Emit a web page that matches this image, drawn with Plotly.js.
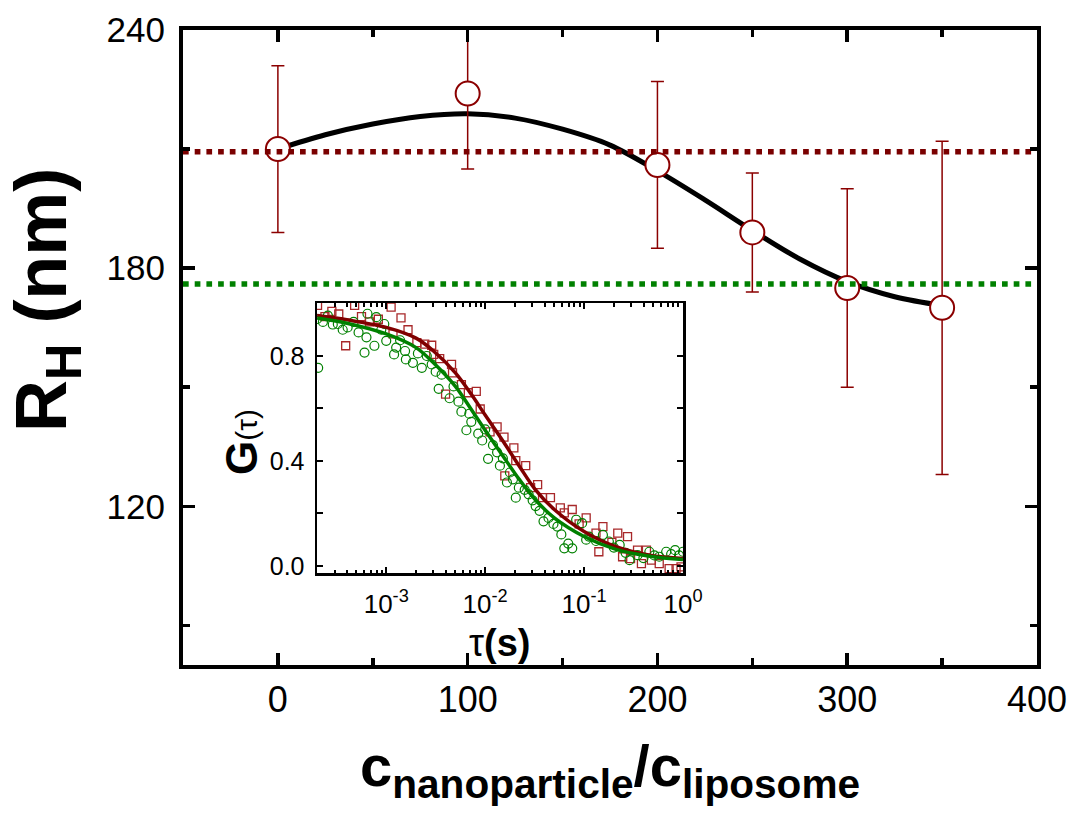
<!DOCTYPE html>
<html>
<head>
<meta charset="utf-8">
<script src="https://cdn.plot.ly/plotly-3.0.1.min.js"></script>
<style>
  html, body { margin: 0; padding: 0; background: #ffffff; }
  #chart { width: 1076px; height: 815px; }
</style>
</head>
<body>
<div id="chart"></div>
<script>
// ---------------- main panel data ----------------
const ratio      = [0, 100, 200, 250, 300, 350];            // c_nanoparticle / c_liposome
const radius     = [210, 224, 206, 189, 175, 170];          // R_H (nm)
const radiusErr  = [21, 19, 21, 15, 25, 42];                // error bars (nm)

const fitRatio   = [0, 25, 50, 75, 100, 125, 150, 175, 200, 225, 250, 275, 300, 325, 350];
const fitRadius  = [210, 213.6, 216.3, 218.2, 218.9, 217.8, 215.0, 211.0, 204.5, 197.2, 189.5, 182.3, 176.6, 172.8, 170.6];

const refRedLevel   = 209.3;   // dark red dotted reference
const refGreenLevel = 176;     // green dotted reference
const xRange = [-50, 400];
const yRange = [80, 240];

// ---------------- inset data ----------------
const tauRed = [2.02e-4, 2.4e-4, 2.82e-4, 3.31e-4, 3.89e-4, 4.79e-4, 5.62e-4, 6.76e-4, 8.32e-4,
                1.12e-3, 1.17e-3, 1.41e-3, 1.66e-3, 2.04e-3, 2.45e-3, 2.88e-3, 3.02e-3, 3.47e-3, 3.98e-3,
                4.57e-3, 4.68e-3, 5.75e-3, 6.76e-3, 8.13e-3, 8.91e-3,
                1.12e-2, 1.32e-2, 1.55e-2, 1.58e-2, 1.95e-2, 2.04e-2, 2.57e-2, 2.88e-2, 3.39e-2, 3.8e-2,
                4.57e-2, 5.75e-2, 6.31e-2, 7.59e-2, 8.91e-2,
                0.105, 0.132, 0.141, 0.155, 0.191, 0.219, 0.245, 0.275, 0.295, 0.347, 0.38, 0.427, 0.479,
                0.575, 0.724, 0.851, 0.955];
const gRed   = [0.993, 0.95, 0.97, 0.96, 0.839, 0.993, 0.95, 0.93, 0.94,
                0.986, 0.884, 0.945, 0.90, 0.851, 0.845, 0.841, 0.806, 0.79, 0.655,
                0.768, 0.736, 0.691, 0.66, 0.665, 0.598,
                0.511, 0.53, 0.491, 0.343, 0.45, 0.401, 0.382, 0.298, 0.31, 0.26,
                0.26, 0.221, 0.202, 0.215, 0.16,
                0.183, 0.125, 0.054, 0.15, 0.09, 0.125, 0.035, 0.112, 0.028, 0.06, 0.009, 0.06, 0.022,
                0.009, -0.01, -0.01, -0.004];

const tauGreen = [2.0e-4, 2.05e-4, 2.29e-4, 2.57e-4, 2.88e-4, 3.24e-4, 3.63e-4, 4.07e-4, 4.68e-4, 5.25e-4,
                  6.03e-4, 6.31e-4, 6.46e-4, 7.59e-4, 7.94e-4, 8.91e-4, 9.55e-4,
                  1.0e-3, 1.2e-3, 1.26e-3, 1.38e-3, 1.55e-3, 1.58e-3, 1.86e-3, 2.09e-3, 2.29e-3, 2.57e-3,
                  2.88e-3, 3.16e-3, 3.39e-3, 3.63e-3, 4.37e-3, 4.79e-3, 5.37e-3, 5.75e-3, 6.46e-3, 6.92e-3,
                  7.24e-3, 8.51e-3, 9.33e-3,
                  1.0e-2, 1.07e-2, 1.2e-2, 1.32e-2, 1.41e-2, 1.51e-2, 1.66e-2, 1.78e-2, 1.91e-2, 2.04e-2,
                  2.19e-2, 2.51e-2, 2.75e-2, 3.02e-2, 3.24e-2, 3.55e-2, 3.89e-2, 4.37e-2, 4.9e-2, 5.37e-2,
                  5.89e-2, 6.31e-2, 6.92e-2, 7.59e-2, 8.32e-2, 9.55e-2,
                  0.105, 0.112, 0.132, 0.155, 0.178, 0.2, 0.229, 0.263, 0.288, 0.347, 0.398, 0.457,
                  0.513, 0.575, 0.676, 0.759, 0.832, 0.912, 1.0];
const gGreen   = [0.941, 0.755, 0.93, 0.954, 0.92, 0.922, 0.90, 0.909, 0.93, 0.89,
                  0.813, 0.871, 0.961, 0.839, 0.948, 0.90, 0.922,
                  0.858, 0.806, 0.832, 0.86, 0.819, 0.787, 0.774, 0.81, 0.755, 0.80,
                  0.768, 0.74, 0.675, 0.729, 0.639, 0.684, 0.626, 0.588, 0.517, 0.58,
                  0.549, 0.504, 0.478,
                  0.52, 0.408, 0.46, 0.433, 0.382, 0.41, 0.318, 0.356, 0.33, 0.26,
                  0.298, 0.29, 0.273, 0.25, 0.228, 0.21, 0.17, 0.183, 0.16, 0.15,
                  0.12, 0.067, 0.085, 0.067, 0.176, 0.163,
                  0.10, 0.112, 0.095, 0.118, 0.093, 0.07, 0.08, 0.05, 0.022, 0.041, 0.03, 0.054,
                  0.04, 0.035, 0.054, 0.045, 0.06, 0.04, 0.054];

const fitTau    = [0.0002, 0.0004, 0.001, 0.002, 0.003, 0.005, 0.0073, 0.01, 0.015, 0.022, 0.032, 0.05, 0.1, 0.21, 0.46, 1];
const fitGRed   = [0.954, 0.938, 0.909, 0.868, 0.819, 0.736, 0.652, 0.575, 0.478, 0.382, 0.292, 0.215, 0.131, 0.073, 0.041, 0.028];
const fitGGreen = [0.945, 0.925, 0.884, 0.832, 0.774, 0.684, 0.594, 0.517, 0.421, 0.331, 0.253, 0.183, 0.112, 0.063, 0.037, 0.024];

const insetTickVals = [0.001, 0.01, 0.1, 1];
const insetTickText = ['10<sup>-3</sup>', '10<sup>-2</sup>', '10<sup>-1</sup>', '10<sup>0</sup>'];
const insetYTickVals = [0, 0.4, 0.8];
const insetYTickText = ['0.0', '0.4', '0.8'];
const insetXRangeLog = [-3.7, 0];
const insetYRange = [-0.027, 1.002];

// minor tick positions for the log axis (2..9 x each decade)
const insetMinor = [];
[1e-4, 1e-3, 1e-2, 1e-1].forEach(d => { for (let m = 2; m <= 9; m++) insetMinor.push(d * m); });

const RED = '#8b0000';
const DOT_RED = '#7a0000';
const GREEN = '#008000';
const SQ_RED = '#a8282a';
const FONT = 'Liberation Sans, Arial, sans-serif';

const traces = [
  { x: fitRatio, y: fitRadius, type: 'scatter', mode: 'lines',
    line: { color: '#000', width: 5, shape: 'spline' }, xaxis: 'x', yaxis: 'y', hoverinfo: 'skip' },
  { x: ratio, y: radius, type: 'scatter', mode: 'markers',
    marker: { symbol: 'circle', size: 24, color: '#ffffff', line: { color: RED, width: 2 } },
    error_y: { type: 'data', array: radiusErr, visible: true, color: RED, thickness: 1.5, width: 6.5 },
    xaxis: 'x', yaxis: 'y' },
  { x: xRange, y: [refRedLevel, refRedLevel], type: 'scatter', mode: 'lines',
    line: { color: DOT_RED, width: 5.5, dash: '5.7px,6px' }, xaxis: 'x', yaxis: 'y' },
  { x: xRange, y: [refGreenLevel, refGreenLevel], type: 'scatter', mode: 'lines',
    line: { color: GREEN, width: 5.5, dash: '5.7px,6px' }, xaxis: 'x', yaxis: 'y' },
  // inset
  { x: tauRed, y: gRed, type: 'scatter', mode: 'markers', cliponaxis: true,
    marker: { symbol: 'square-open', size: 8, color: SQ_RED, line: { width: 1.3 } }, xaxis: 'x2', yaxis: 'y2' },
  { x: tauGreen, y: gGreen, type: 'scatter', mode: 'markers', cliponaxis: true,
    marker: { symbol: 'circle-open', size: 9, color: GREEN, line: { width: 1.2 } }, xaxis: 'x2', yaxis: 'y2' },
  { x: fitTau, y: fitGRed, type: 'scatter', mode: 'lines',
    line: { color: '#800000', width: 3.5, shape: 'spline' }, xaxis: 'x2', yaxis: 'y2' },
  { x: fitTau, y: fitGGreen, type: 'scatter', mode: 'lines',
    line: { color: GREEN, width: 3.5, shape: 'spline' }, xaxis: 'x2', yaxis: 'y2' }
];

const L = 183, R = 39, T = 30, B = 150;
const W = 1076, H = 815;
const pw = W - L - R, ph = H - T - B;
const px = v => (v - L) / pw;          // pixel -> paper x
const py = v => (H - B - v) / ph;      // pixel -> paper y

const layout = {
  width: W, height: H,
  margin: { l: L, r: R, t: T, b: B, pad: 0 },
  paper_bgcolor: '#ffffff', plot_bgcolor: '#ffffff',
  showlegend: false,
  font: { family: FONT, color: '#000' },
  xaxis: {
    range: xRange, dtick: 100, tick0: 0, showgrid: false, zeroline: false,
    showline: true, linewidth: 4, linecolor: '#000', mirror: 'ticks',
    ticks: 'inside', ticklen: 12, tickwidth: 3.5, tickcolor: '#000',
    minor: { dtick: 50, ticks: 'inside', ticklen: 7, tickwidth: 3.5, tickcolor: '#000', showgrid: false },
    tickfont: { size: 36, family: FONT }, ticklabelstandoff: 0,
    domain: [0, 1], anchor: 'y'
  },
  yaxis: {
    range: yRange, dtick: 60, tick0: 0, showgrid: false, zeroline: false,
    showline: true, linewidth: 4, linecolor: '#000', mirror: 'ticks',
    ticks: 'inside', ticklen: 12, tickwidth: 3.5, tickcolor: '#000',
    minor: { dtick: 30, ticks: 'inside', ticklen: 7, tickwidth: 3.5, tickcolor: '#000', showgrid: false },
    tickfont: { size: 35, family: FONT }, ticklabelstandoff: 7,
    domain: [0, 1], anchor: 'x'
  },
  xaxis2: {
    type: 'log', range: insetXRangeLog, domain: [px(317), px(683)], anchor: 'y2',
    tickmode: 'array', tickvals: insetTickVals, ticktext: insetTickText,
    showgrid: false, zeroline: false,
    showline: true, linewidth: 2.5, linecolor: '#000', mirror: 'ticks',
    ticks: 'inside', ticklen: 6, tickwidth: 2, tickcolor: '#000',
    minor: { tickmode: 'array', tickvals: insetMinor, ticks: 'inside', ticklen: 3.5, tickwidth: 2, tickcolor: '#000', showgrid: false },
    tickfont: { size: 26, family: FONT }, ticklabelstandoff: 6
  },
  yaxis2: {
    range: insetYRange, domain: [py(573), py(303)], anchor: 'x2',
    tickmode: 'array', tickvals: insetYTickVals, ticktext: insetYTickText,
    showgrid: false, zeroline: false,
    showline: true, linewidth: 2.5, linecolor: '#000', mirror: 'ticks',
    ticks: 'inside', ticklen: 6, tickwidth: 2, tickcolor: '#000',
    minor: { tickmode: 'array', tickvals: [0.2, 0.6], ticks: 'inside', ticklen: 6, tickwidth: 2, tickcolor: '#000', showgrid: false },
    tickfont: { size: 25, family: FONT }, ticklabelstandoff: 5
  },
  annotations: [
    { xref: 'paper', yref: 'paper', x: px(610), y: py(770), xanchor: 'center', yanchor: 'middle',
      showarrow: false, text: '<b>c<sub>nanoparticle</sub>/c<sub>liposome</sub></b>',
      font: { size: 58, family: FONT, color: '#000' } },
    { xref: 'paper', yref: 'paper', x: px(46), y: py(300), xanchor: 'center', yanchor: 'middle',
      showarrow: false, textangle: -90, text: '<b>R<sub>H</sub> (nm)</b>',
      font: { size: 72, family: FONT, color: '#000' } },
    { xref: 'paper', yref: 'paper', x: px(241), y: py(442), xanchor: 'center', yanchor: 'middle',
      showarrow: false, textangle: -90, text: '<span style="font-size:44px"><b>G</b></span>(τ)',
      font: { size: 30, family: FONT, color: '#000' } },
    { xref: 'paper', yref: 'paper', x: px(499), y: py(643), xanchor: 'center', yanchor: 'middle',
      showarrow: false, text: 'τ<b>(s)</b>',
      font: { size: 38, family: FONT, color: '#000' } }
  ]
};

Plotly.newPlot('chart', traces, layout, { displayModeBar: false, staticPlot: true });
</script>
</body>
</html>
